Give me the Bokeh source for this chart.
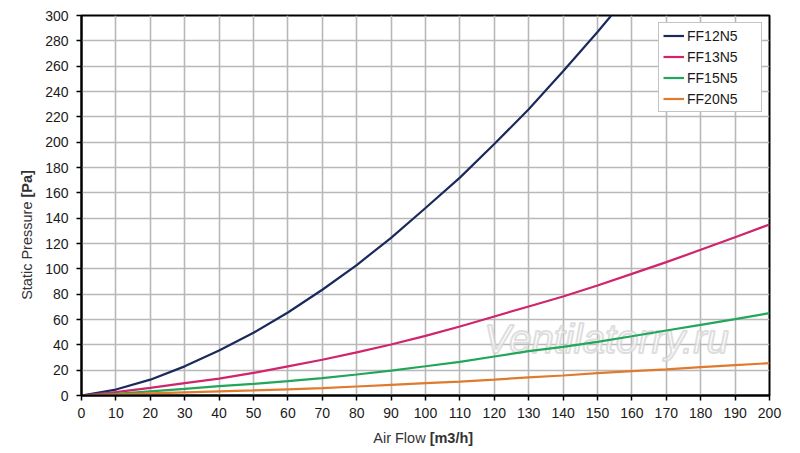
import math
from bokeh.plotting import figure
from bokeh.layouts import row, column
from bokeh.models import FixedTicker, Legend, LegendItem, Range1d
from bokeh.embed import file_html
from bokeh.resources import INLINE
from bokeh.core.properties import value

# ---- data ----
flow = [0, 10, 20, 30, 40, 50, 60, 70, 80, 90, 100, 110, 120, 130, 140, 150, 160, 170, 180, 190, 200]
ff12_flow = [0, 10, 20, 30, 40, 50, 60, 70, 80, 90, 100, 110, 120, 130, 140, 150, 154]
ff12n5 = [0, 4.7, 12.5, 23, 35.5, 49.5, 65.5, 83.5, 103, 124.5, 148, 172, 198.5, 226, 256, 287, 300]
ff13n5 = [0, 2.6, 6, 9.7, 13.3, 17.8, 23, 28.2, 34, 40.3, 47.1, 54.5, 62.4, 70.3, 78.2, 86.8, 96, 105.3, 115, 125, 135]
ff15n5 = [0, 1.3, 3.3, 5.3, 7.4, 9.2, 11.3, 13.7, 16.6, 19.7, 23.1, 26.6, 30.8, 35, 38.4, 42.4, 46.8, 51.3, 55.8, 60.3, 65]
ff20n5 = [0, 0.8, 1.6, 2.4, 3.2, 4, 4.9, 5.8, 7.1, 8.4, 9.7, 11, 12.6, 14.3, 15.8, 17.6, 19.2, 20.6, 22.4, 24, 25.5]

series_names = ["FF12N5", "FF13N5", "FF15N5", "FF20N5"]
series_colors = ["#1b2a5c", "#d0246c", "#22a65a", "#e07a2c"]
x_ticks = list(range(0, 201, 10))
y_ticks = list(range(0, 301, 20))
x_label_main, x_label_bold = "Air Flow ", "[m3/h]"
y_label_main, y_label_bold = "Static Pressure ", "[Pa]"
watermark = "Ventilatorry.ru"

FONT = "Liberation Sans"
LABEL_SIZE = "14.5px"
LABEL_COLOR = "#333333"

x_range = Range1d(0, 200)
y_range = Range1d(0, 300)

# ---- main chart ----
p = figure(width=754, height=423, output_backend="svg", toolbar_location=None,
           x_range=x_range, y_range=y_range,
           min_border_left=43, min_border_right=23, min_border_top=15, min_border_bottom=28)
p.background_fill_color = "white"
p.border_fill_color = "white"
p.outline_line_color = "black"
p.outline_line_width = 2

for ax, ticks in ((p.xaxis, x_ticks), (p.yaxis, y_ticks)):
    ax.ticker = FixedTicker(ticks=ticks)
    ax.axis_line_color = "black"
    ax.axis_line_width = 2
    ax.major_tick_line_color = "black"
    ax.major_tick_line_width = 1.5
    ax.major_tick_out = 5
    ax.major_tick_in = 0
    ax.minor_tick_line_color = None
    ax.major_label_text_font = FONT
    ax.major_label_text_font_size = "14px"
    ax.major_label_text_color = "#1a1a1a"
p.xaxis.major_label_standoff = 7
p.yaxis.major_label_standoff = 8

for g in (p.xgrid, p.ygrid):
    g.grid_line_color = "#b8b8b8"
    g.grid_line_width = 1.6

# watermark
p.text(x=[152.6], y=[45], text=[watermark], text_font=value(FONT), text_font_style="italic",
       text_font_size="40px", text_color="white", text_alpha=0.7,
       text_outline_color="#d0d0d0", text_align="center", text_baseline="alphabetic")

xs = [ff12_flow, flow, flow, flow]
ys = [ff12n5, ff13n5, ff15n5, ff20n5]
items = []
for name, col, xv, yv in zip(series_names, series_colors, xs, ys):
    r = p.line(xv, yv, line_color=col, line_width=2.2)
    items.append(LegendItem(label=name, renderers=[r]))

legend = Legend(items=items, location="top_right")
legend.margin = 7
legend.padding = 4
legend.spacing = 4
legend.glyph_width = 21
legend.glyph_height = 17
legend.label_height = 17
legend.label_width = 70
legend.label_standoff = 3
legend.label_text_font = FONT
legend.label_text_font_size = "14px"
legend.label_text_color = "#1a1a1a"
legend.border_line_color = "#8a8a8a"
legend.border_line_width = 1
legend.background_fill_color = "white"
legend.background_fill_alpha = 1
p.add_layout(legend)

# ---- y axis title strip (left) ----
yfig = figure(width=38, height=447, output_backend="svg", toolbar_location=None,
              x_range=Range1d(0, 38), y_range=y_range, x_axis_type=None, y_axis_type=None,
              min_border_left=0, min_border_right=0, min_border_top=15, min_border_bottom=52)
yfig.outline_line_color = None
yfig.border_fill_color = "white"
ylab_kw = dict(text_font=value(FONT), text_font_size=LABEL_SIZE, text_color=LABEL_COLOR,
               text_baseline="middle", angle=math.pi / 2)
yfig.text(x=[26], y=[156.3], text=[y_label_main], text_align="right", **ylab_kw)
yfig.text(x=[26], y=[156.3], text=[y_label_bold], text_align="left", text_font_style="bold", **ylab_kw)

# ---- x axis title strip (bottom) ----
xfig = figure(width=754, height=24, output_backend="svg", toolbar_location=None,
              x_range=x_range, y_range=Range1d(0, 24), x_axis_type=None, y_axis_type=None,
              min_border_left=43, min_border_right=23, min_border_top=0, min_border_bottom=0)
xfig.outline_line_color = None
xfig.border_fill_color = "white"
xlab_kw = dict(text_font=value(FONT), text_font_size=LABEL_SIZE, text_color=LABEL_COLOR,
               text_baseline="middle")
xfig.text(x=[101.2], y=[10], text=[x_label_main], text_align="right", **xlab_kw)
xfig.text(x=[101.2], y=[10], text=[x_label_bold], text_align="left", text_font_style="bold", **xlab_kw)

layout = row(yfig, column(p, xfig, spacing=0), spacing=0)
open("out.html", "w").write(file_html(layout, INLINE))
